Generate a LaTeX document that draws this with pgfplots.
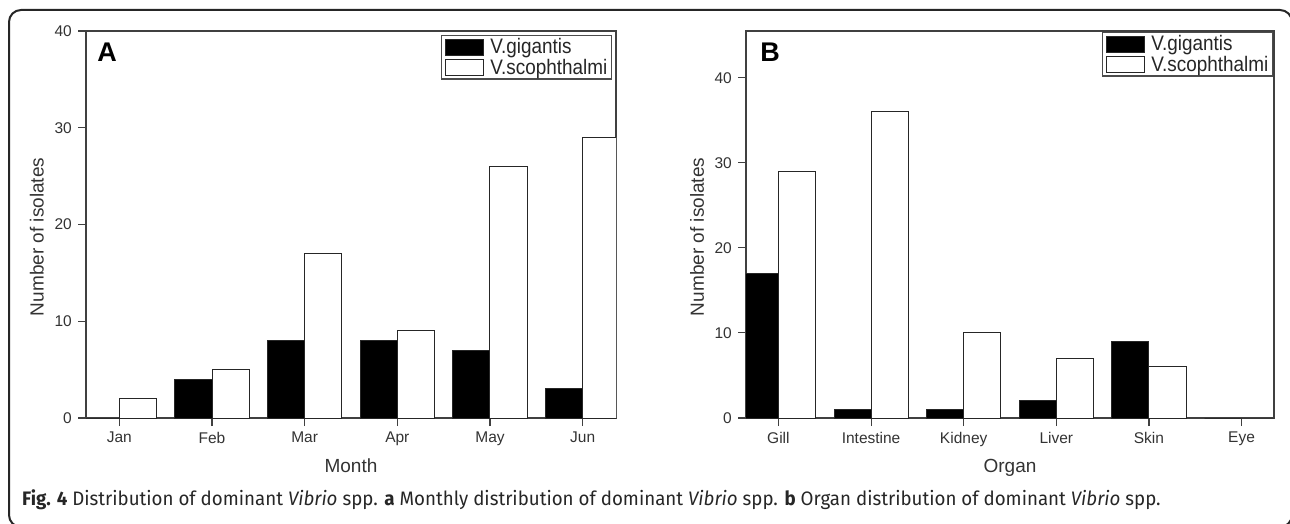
\documentclass[border=0pt]{standalone}
\usepackage{fontspec}
\setmainfont{Liberation Sans}
\newfontfamily\narrowfont[FakeStretch=0.9]{Liberation Sans}
\newfontfamily\capfont[FakeStretch=0.96]{Fira Sans}
\usepackage{pgfplots}
\usepackage{pgfplotstable}
\pgfplotsset{compat=1.18}

\definecolor{axisgray}{HTML}{404040}
\definecolor{txtgray}{HTML}{333333}

% month data: V. gigantis / V. scophthalmi
\pgfplotstableread{
x vg vs
0 0 2
1 4 5
2 8 17
3 8 9
4 7 26
5 3 29
}\months

% organ data
\pgfplotstableread{
x vg vs
0 17 29
1 1 36
2 1 10
3 2 7
4 9 6
5 0 0
}\organs

\pgfplotsset{
  panel/.style={
    scale only axis, width=530pt, height=387pt,
    ybar, bar width=0.4,
    ymin=0,
    xtick={0,...,5},
    axis line style={axisgray, line width=1.4pt},
    tick style={axisgray, line width=1.1pt},
    tick align=outside, major tick length=8pt,
    xtick pos=bottom, ytick pos=left,
    tick label style={font=\fontsize{15.5}{17}\selectfont, text=txtgray, inner sep=0pt},
    /pgf/number format/assume math mode=true,
    xticklabel shift=6pt, yticklabel shift=6pt,
    label style={font=\fontsize{19}{22}\selectfont, text=txtgray, inner sep=0pt},
    ylabel={Number of isolates},
    ylabel style={at={(axis description cs:-0.0792,0.468)}, anchor=south, rotate=0},
    xlabel style={at={(axis description cs:0.5,-0.142)}, anchor=base},
    legend image code/.code={\draw[#1] (0pt,-8pt) rectangle (38pt,8pt);},
    legend style={draw=black!70, line width=1.4pt, anchor=north east,
      font=\narrowfont\fontsize{21}{23}\selectfont, text=black!85,
      inner xsep=4pt, inner ysep=1pt, row sep=0pt,
      nodes={inner xsep=0pt, inner ysep=2pt},
      /tikz/every odd column/.append style={column sep=6pt},
      /tikz/every even column/.append style={column sep=8pt},
      cells={anchor=west}},
  },
  gig/.style={fill=black, draw=black!85, line width=1pt, bar shift=-0.2},
  sco/.style={fill=white, draw=black!85, line width=1pt, bar shift=0.2},
}

\begin{document}
\begin{tikzpicture}[x=1pt, y=1pt]
\useasboundingbox (0,0) rectangle (1290,523);

% outer frame, cut by the page on the right and at the bottom
\begin{scope}
  \clip (0,0) rectangle (1290,523);
  \draw[line width=2pt, rounded corners=12pt, black!85] (9,-4) rectangle (1292,513);
\end{scope}

% panel A
\begin{axis}[panel, at={(86pt,105pt)}, anchor=south west,
  xmin=-0.36, xmax=5.36, ymax=40, ytick={0,10,...,40},
  xticklabels={Jan,Feb,Mar,Apr,May,Jun},
  xlabel={Month},
  legend style={at={(axis description cs:1,1)}, xshift=-4pt, yshift=-4pt}]
  \addplot[gig] table[x=x, y=vg] {\months};
  \addplot[sco] table[x=x, y=vs] {\months};
  \legend{V.gigantis, V.scophthalmi}
  \node[anchor=north west, inner sep=0pt, font=\bfseries\fontsize{27}{30}\selectfont]
    at (rel axis cs:0.021,0.969) {A};
\end{axis}

% panel B
\begin{axis}[panel, at={(746pt,105pt)}, anchor=south west, width=528pt,
  xmin=-0.35, xmax=5.35, ymax=45.5, ytick={0,10,...,40},
  xticklabels={Gill,Intestine,Kidney,Liver,Skin,Eye},
  xlabel={Organ},
  legend style={at={(axis description cs:1,1)}, xshift=-1pt, yshift=-1pt}]
  \addplot[gig] table[x=x, y=vg] {\organs};
  \addplot[sco] table[x=x, y=vs] {\organs};
  \legend{V.gigantis, V.scophthalmi}
  \node[anchor=north west, inner sep=0pt, font=\bfseries\fontsize{27}{30}\selectfont]
    at (rel axis cs:0.027,0.969) {B};
\end{axis}

% caption
\node[anchor=base west, inner sep=0pt, text=black!85,
  font=\capfont\fontsize{19.5}{22}\selectfont] at (22,18)
  {\textbf{Fig. 4} Distribution of dominant \textit{Vibrio} spp. \textbf{a} Monthly distribution of dominant \textit{Vibrio} spp. \textbf{b} Organ distribution of dominant \textit{Vibrio} spp.};
\end{tikzpicture}
\end{document}
